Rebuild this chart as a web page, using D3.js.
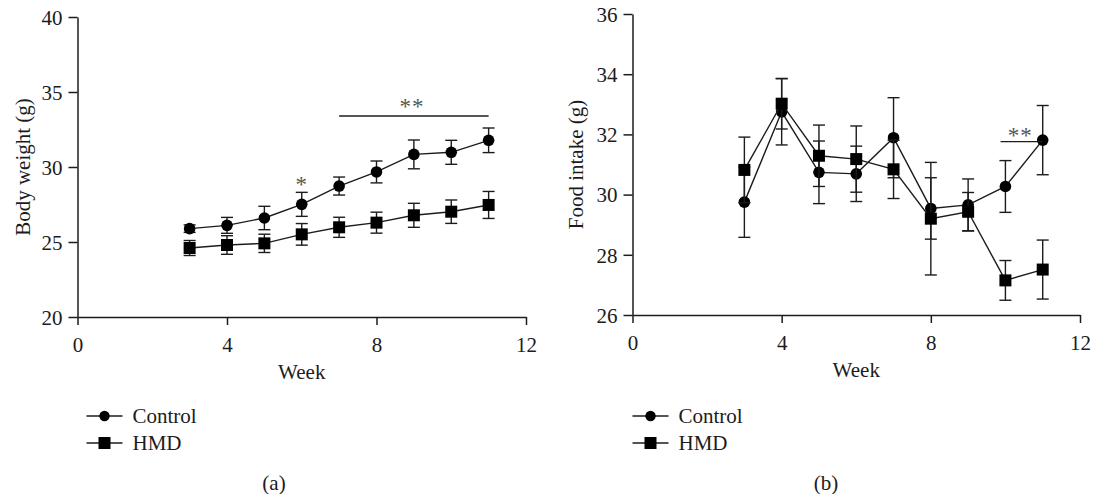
<!DOCTYPE html>
<html>
<head>
<meta charset="utf-8">
<script src="https://cdn.jsdelivr.net/npm/d3@7"></script>
<style>
  html, body { margin: 0; padding: 0; background: #fff; }
  svg { display: block; font-family: "Liberation Serif", "Times New Roman", serif; }
</style>
</head>
<body>
<svg id="fig" width="1093" height="494"></svg>
<script>
// Weeks of measurement
const weeks = [3, 4, 5, 6, 7, 8, 9, 10, 11];

// Panel (a): body weight (g), mean and SEM
const bwControl    = [25.89, 26.11, 26.60, 27.51, 28.73, 29.67, 30.84, 30.98, 31.78];
const bwControlErr = [0.25, 0.53, 0.78, 0.80, 0.60, 0.73, 0.96, 0.80, 0.82];
const bwHMD        = [24.60, 24.80, 24.91, 25.51, 25.98, 26.29, 26.78, 27.02, 27.47];
const bwHMDErr     = [0.50, 0.62, 0.61, 0.72, 0.67, 0.70, 0.80, 0.78, 0.90];

// Panel (b): food intake (g), mean and SEM
const fiControl    = [29.75, 32.75, 30.74, 30.69, 31.89, 29.54, 29.66, 30.27, 31.81];
const fiControlErr = [1.17, 1.10, 1.04, 0.92, 1.33, 1.02, 0.86, 0.86, 1.15];
const fiHMD        = [30.82, 33.02, 31.29, 31.18, 30.84, 29.20, 29.43, 27.15, 27.51];
const fiHMDErr     = [1.09, 0.84, 1.02, 1.10, 0.97, 1.87, 0.64, 0.66, 0.98];

// Axis ticks
const xTicks  = [0, 4, 8, 12];
const bwTicks = [20, 25, 30, 35, 40];
const fiTicks = [26, 28, 30, 32, 34, 36];

const seriesNames = ["Control", "HMD"];

const svg = d3.select("#fig");
const ink = "#1c1c1c";
const FONT = 21;

function drawPanel(p) {
  const g = svg.append("g");
  const x = d3.scaleLinear().domain([0, 12]).range([p.left, p.right]);
  const y = d3.scaleLinear().domain(p.yDomain).range([p.bottom, p.top]);

  // y axis
  const ya = g.append("g")
    .attr("transform", `translate(${p.left},0)`)
    .call(d3.axisLeft(y).tickValues(p.yTicks).tickSize(9).tickSizeOuter(0).tickPadding(6));
  // x axis
  const xa = g.append("g")
    .attr("transform", `translate(0,${p.bottom})`)
    .call(d3.axisBottom(x).tickValues(xTicks).tickSize(8).tickSizeOuter(0));
  [ya, xa].forEach(a => {
    a.select(".domain").attr("stroke", ink).attr("stroke-width", 1.5);
    a.selectAll(".tick line").attr("stroke", ink).attr("stroke-width", 1.5);
    a.selectAll("text").attr("fill", ink).attr("font-size", FONT)
      .attr("font-family", "Liberation Serif, serif");
  });
  xa.selectAll("text").attr("y", 28).attr("dy", "0.35em");
  ya.selectAll("text").attr("dy", "0.35em");

  // axis titles
  g.append("text")
    .attr("transform", `translate(${p.left - p.titleOffset},${(p.top + p.bottom) / 2}) rotate(-90)`)
    .attr("text-anchor", "middle").attr("dy", "0.35em")
    .attr("font-size", FONT).attr("fill", ink).text(p.yTitle);
  g.append("text")
    .attr("x", (p.left + p.right) / 2).attr("y", p.bottom + 55).attr("dy", "0.35em")
    .attr("text-anchor", "middle").attr("font-size", FONT).attr("fill", ink).text("Week");

  const series = [
    { name: "Control", mean: p.control, err: p.controlErr, shape: "circle" },
    { name: "HMD", mean: p.hmd, err: p.hmdErr, shape: "square" }
  ];
  const capW = 12, r = 5.8, side = 12;

  series.forEach(s => {
    const pts = weeks.map((w, i) => ({ w, m: s.mean[i], e: s.err[i] }));
    const sg = g.append("g");
    // error bars
    const eb = sg.selectAll(".eb").data(pts).join("g");
    eb.append("line")
      .attr("x1", d => x(d.w)).attr("x2", d => x(d.w))
      .attr("y1", d => y(d.m - d.e)).attr("y2", d => y(d.m + d.e))
      .attr("stroke", ink).attr("stroke-width", 1.4);
    [-1, 1].forEach(sign => {
      eb.append("line")
        .attr("x1", d => x(d.w) - capW / 2).attr("x2", d => x(d.w) + capW / 2)
        .attr("y1", d => y(d.m + sign * d.e)).attr("y2", d => y(d.m + sign * d.e))
        .attr("stroke", ink).attr("stroke-width", 1.4);
    });
    // connecting line
    sg.append("path").datum(pts)
      .attr("fill", "none").attr("stroke", ink).attr("stroke-width", 1.4)
      .attr("d", d3.line().x(d => x(d.w)).y(d => y(d.m)));
    // markers
    if (s.shape === "circle") {
      sg.selectAll("circle").data(pts).join("circle")
        .attr("cx", d => x(d.w)).attr("cy", d => y(d.m)).attr("r", r).attr("fill", "#000");
    } else {
      sg.selectAll("rect").data(pts).join("rect")
        .attr("x", d => x(d.w) - side / 2).attr("y", d => y(d.m) - side / 2)
        .attr("width", side).attr("height", side).attr("fill", "#000");
    }
  });

  // significance marks
  p.marks.forEach(m => {
    if (m.from !== undefined) {
      g.append("line")
        .attr("x1", x(m.from)).attr("x2", x(m.to))
        .attr("y1", y(m.barY)).attr("y2", y(m.barY))
        .attr("stroke", ink).attr("stroke-width", 1.4);
    }
    g.append("text")
      .attr("x", x(m.textX)).attr("y", y(m.textY)).attr("dy", "0.45em")
      .attr("text-anchor", "middle").attr("font-size", 23).attr("fill", "#555")
      .attr("letter-spacing", 1).text(m.label);
  });

  // legend
  const lg = g.append("g");
  seriesNames.forEach((name, i) => {
    const cy = p.legendY + i * 27;
    lg.append("line").attr("x1", p.legendX).attr("x2", p.legendX + 36)
      .attr("y1", cy).attr("y2", cy).attr("stroke", ink).attr("stroke-width", 1.4);
    if (i === 0) {
      lg.append("circle").attr("cx", p.legendX + 18).attr("cy", cy).attr("r", 5.2).attr("fill", "#000");
    } else {
      lg.append("rect").attr("x", p.legendX + 12).attr("y", cy - 6)
        .attr("width", 12).attr("height", 12).attr("fill", "#000");
    }
    lg.append("text").attr("x", p.legendX + 46).attr("y", cy).attr("dy", "0.35em")
      .attr("font-size", FONT).attr("fill", ink).text(name);
  });

  // panel letter
  g.append("text").attr("x", p.letterX).attr("y", 483).attr("dy", "0.35em")
    .attr("text-anchor", "middle").attr("font-size", FONT).attr("fill", ink).text(p.letter);
}

drawPanel({
  left: 77.5, right: 526, top: 17, bottom: 317,
  yDomain: [20, 40], yTicks: bwTicks, yTitle: "Body weight (g)", titleOffset: 55,
  control: bwControl, controlErr: bwControlErr, hmd: bwHMD, hmdErr: bwHMDErr,
  marks: [
    { label: "*", textX: 6, textY: 29.05 },
    { label: "**", from: 7, to: 11, barY: 33.4, textX: 8.95, textY: 34.2 }
  ],
  legendX: 86.5, legendY: 416, letter: "(a)", letterX: 274
});

drawPanel({
  left: 632.5, right: 1080, top: 14, bottom: 315,
  yDomain: [26, 36], yTicks: fiTicks, yTitle: "Food intake (g)", titleOffset: 57,
  control: fiControl, controlErr: fiControlErr, hmd: fiHMD, hmdErr: fiHMDErr,
  marks: [
    { label: "**", from: 9.87, to: 11, barY: 31.76, textX: 10.4, textY: 32.05 }
  ],
  legendX: 632.5, legendY: 416, letter: "(b)", letterX: 826
});
</script>
</body>
</html>
